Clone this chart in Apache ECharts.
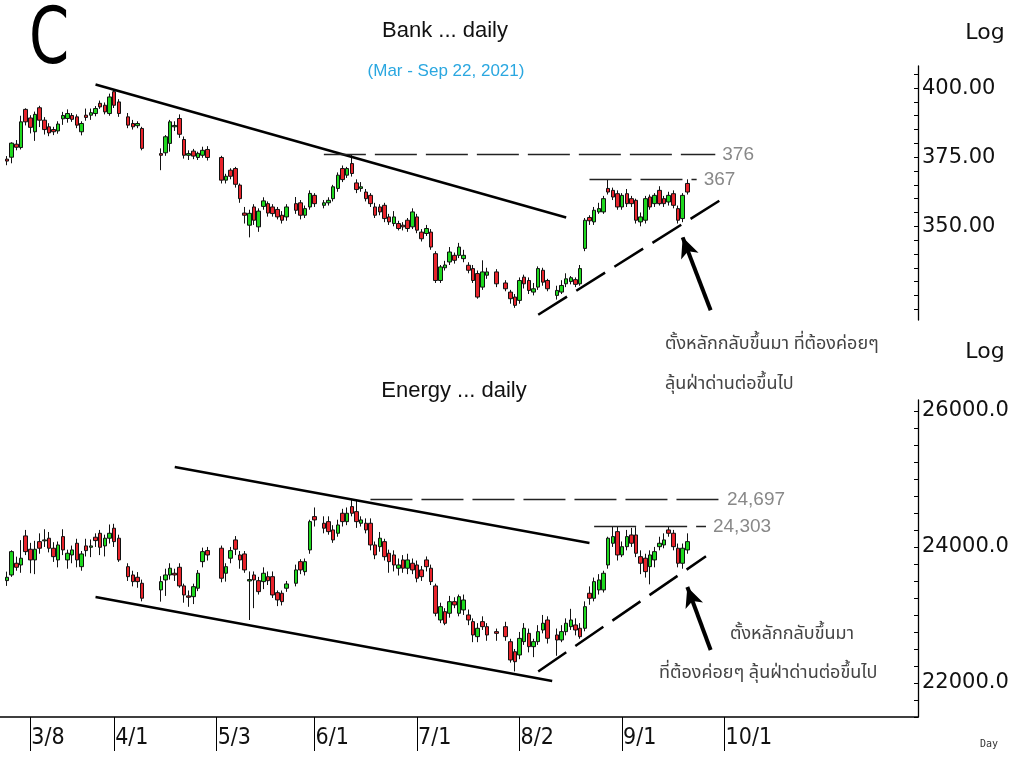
<!DOCTYPE html>
<html>
<head>
<meta charset="utf-8">
<title>Bank / Energy daily</title>
<script src="https://cdn.jsdelivr.net/npm/echarts@6/dist/echarts.min.js"></script>
<style>
html, body { margin: 0; padding: 0; background: #fff; }
#main { width: 1012px; height: 757px; }
</style>
</head>
<body>
<div id="main"></div>
<script>
// x axis: every weekday from 2/26/2021, holidays left empty
var startDay = new Date(2021, 1, 26);
var dayCount = 197;
var dateTicks = ['3/8', '4/1', '5/3', '6/1', '7/1', '8/2', '9/1', '10/1'];

var bankLabels = [350, 375, 400];
var energyLabels = [22000, 24000, 26000];

var NA = ['-', '-', '-', '-'];

// [open, close, low, high]
var bankK = [
  NA,
  [374.3, 373.6, 372.1, 375.4], [375.0, 380.1, 372.8, 380.4], [379.7, 378.6, 377.5, 381.2], [378.5, 387.8, 377.8, 390.0],
  [392.3, 387.8, 386.5, 392.7], [389.2, 385.8, 383.6, 390.2], [384.2, 390.5, 380.9, 391.5], [392.9, 388.4, 385.9, 393.6],
  [388.4, 385.0, 383.2, 389.5], [386.0, 383.8, 382.6, 387.3], [385.0, 384.2, 383.0, 386.0], [384.5, 387.0, 383.5, 388.0],
  [388.9, 390.1, 386.7, 391.4], [389.0, 390.8, 387.5, 392.3], [390.1, 388.7, 387.8, 391.0], [389.6, 386.6, 385.5, 390.5],
  [384.2, 387.2, 382.9, 388.0], [390.2, 389.4, 388.2, 392.6], [390.2, 391.1, 388.5, 392.6], [390.8, 392.6, 389.8, 393.5],
  [394.5, 393.2, 392.5, 395.5], [393.8, 391.4, 390.5, 394.8], [390.8, 396.8, 390.0, 398.0], [398.7, 393.8, 392.8, 399.5],
  [395.0, 390.8, 389.6, 396.0], NA, [389.6, 386.6, 385.5, 391.0], [387.2, 386.0, 385.0, 388.5],
  [386.4, 387.2, 385.5, 388.0], [385.4, 378.2, 377.5, 386.0], NA, NA,
  NA, [376.3, 375.7, 370.3, 378.2], [376.6, 382.4, 375.5, 383.0], [380.0, 387.8, 377.0, 388.5],
  [386.0, 386.5, 384.5, 388.0], [389.0, 383.3, 382.0, 390.5], [381.4, 375.7, 374.5, 382.5], [375.7, 376.3, 374.0, 377.5],
  [377.2, 375.4, 374.3, 378.0], [374.9, 376.4, 374.0, 377.0], [375.7, 377.5, 374.8, 378.8], [377.8, 374.9, 373.8, 379.0],
  NA, NA, [374.9, 366.7, 365.5, 375.5], [366.7, 368.1, 365.5, 369.0],
  [370.3, 368.1, 367.0, 371.0], [370.9, 365.2, 364.0, 371.5], [364.9, 360.0, 358.5, 365.5], [354.8, 354.0, 351.0, 357.0],
  [350.4, 354.7, 346.0, 356.0], [357.0, 352.2, 350.5, 358.0], [349.8, 355.5, 348.0, 356.5], [357.2, 359.2, 356.0, 360.5],
  [358.2, 354.8, 353.5, 359.0], [357.0, 354.6, 353.5, 358.0], [356.1, 353.4, 352.5, 357.0], [354.0, 352.2, 351.0, 355.5],
  [353.4, 357.0, 352.0, 358.0], NA, [358.2, 355.8, 354.5, 360.6], [358.5, 354.0, 352.5, 359.5],
  [354.0, 356.4, 353.0, 357.5], [357.0, 361.9, 356.0, 363.0], [361.2, 358.2, 357.0, 362.0], NA,
  [357.6, 358.5, 356.5, 359.5], [358.5, 359.4, 357.5, 360.5], [360.0, 364.3, 359.0, 365.0], [363.7, 368.5, 362.5, 369.5],
  [370.9, 366.9, 366.0, 372.0], [368.5, 370.9, 367.5, 371.5], [372.7, 369.1, 368.0, 376.0], [365.7, 363.3, 362.0, 367.0],
  [363.7, 364.3, 362.5, 366.0], [362.4, 360.0, 359.0, 363.5], [361.2, 358.2, 357.0, 362.0], [357.0, 354.0, 353.0, 358.5],
  [357.0, 355.2, 354.0, 358.0], [357.6, 352.8, 351.5, 358.5], [353.4, 351.6, 350.5, 354.5], [351.0, 353.4, 350.0, 355.5],
  [351.0, 349.2, 348.5, 352.0], [350.4, 349.8, 348.5, 351.5], [352.2, 349.2, 348.0, 353.0], [349.8, 355.2, 349.0, 356.5],
  [353.4, 348.6, 347.5, 354.5], [347.9, 345.5, 344.5, 349.0], [347.4, 349.2, 346.5, 350.5], [347.9, 342.5, 341.5, 349.0],
  [340.1, 330.4, 329.5, 341.0], [330.4, 335.3, 329.5, 336.0], [335.0, 336.0, 334.0, 337.5], [337.1, 340.7, 336.0, 342.5],
  [339.5, 337.7, 336.5, 340.5], [339.5, 342.5, 338.5, 344.0], [338.3, 339.5, 337.0, 341.5], [335.9, 334.1, 333.0, 337.0],
  [334.7, 330.4, 329.5, 336.0], [332.9, 324.4, 323.8, 334.0], [328.0, 333.5, 327.0, 337.7], [332.3, 333.5, 331.0, 335.0],
  NA, [333.5, 329.2, 328.0, 334.5], NA, [329.5, 327.4, 326.5, 330.5],
  [326.2, 323.8, 322.0, 327.0], [324.4, 321.4, 320.5, 325.5], [323.2, 330.4, 322.0, 331.5], [331.6, 329.2, 327.5, 332.5],
  [330.4, 326.8, 325.5, 331.5], [326.2, 327.4, 325.0, 329.5], [328.0, 334.7, 327.0, 335.5], [334.1, 329.8, 328.5, 335.0],
  [330.4, 327.4, 326.5, 331.0], NA, [325.0, 326.8, 323.5, 328.5], [326.2, 328.6, 325.5, 330.5],
  [329.2, 331.0, 328.0, 333.0], [330.0, 331.4, 329.0, 332.0], [330.7, 329.0, 328.0, 331.5], [329.2, 334.7, 328.5, 336.0],
  [342.0, 352.2, 341.0, 353.0], [353.2, 352.0, 350.5, 354.0], [351.6, 355.8, 350.5, 357.0], [355.2, 356.4, 354.5, 358.5],
  [355.2, 360.0, 354.5, 361.0], [363.7, 362.4, 361.5, 367.0], [363.0, 360.6, 359.5, 364.0], [361.8, 357.0, 356.0, 363.0],
  [357.0, 361.2, 356.0, 362.0], [361.8, 358.2, 357.0, 363.5], [360.0, 358.2, 357.0, 361.0], [359.4, 352.2, 351.0, 360.0],
  [351.6, 353.4, 350.0, 355.0], [352.2, 360.0, 351.0, 361.0], [360.6, 357.0, 356.0, 361.5], [358.2, 361.2, 357.0, 362.0],
  [363.0, 358.2, 357.5, 364.5], [360.0, 358.2, 357.0, 361.0], [358.8, 361.2, 357.5, 362.5], [361.8, 357.6, 356.5, 363.0],
  [356.4, 352.2, 351.0, 357.5], [352.8, 361.2, 351.5, 362.0], [365.5, 362.4, 361.5, 367.0]
];

var energyK = [
  NA,
  [23505, 23554, 23427, 23637], [23588, 23931, 23560, 23950], [23760, 23701, 23650, 23857], [23735, 23834, 23620, 24100],
  [24162, 23931, 23880, 24250], [23966, 23809, 23613, 24060], [23809, 23966, 23600, 24090], [24078, 23981, 23900, 24200],
  [24090, 24103, 24000, 24260], [24128, 23981, 23920, 24220], [23981, 23857, 23780, 24070], [23809, 24029, 23700, 24080],
  [24152, 23956, 23880, 24260], [23809, 23907, 23680, 23960], [23882, 23956, 23760, 24020], [24054, 23809, 23700, 24120],
  [23710, 23897, 23650, 23940], [24015, 23946, 23860, 24120], [23995, 24015, 23850, 24110], [24143, 24093, 24000, 24200],
  [24201, 23995, 23880, 24250], [24015, 24128, 23860, 24180], [24128, 24201, 24050, 24330], [24275, 24078, 24000, 24340],
  [24128, 23809, 23780, 24180], NA, [23710, 23563, 23500, 23760], [23588, 23490, 23420, 23650],
  [23554, 23490, 23400, 23630], [23466, 23246, 23200, 23520], NA, NA,
  NA, [23368, 23490, 23196, 23570], [23515, 23588, 23280, 23680], [23588, 23687, 23520, 23760],
  [23613, 23588, 23500, 23680], [23701, 23427, 23400, 23760], [23427, 23294, 23180, 23460], [23280, 23260, 23120, 23360],
  [23269, 23416, 23160, 23460], [23393, 23613, 23350, 23660], [23784, 23931, 23700, 23990], [23946, 23882, 23800, 24000],
  NA, NA, [23981, 23540, 23480, 24020], [23613, 23710, 23490, 23760],
  [23834, 23946, 23760, 24000], [24103, 23966, 23880, 24160], [23882, 23809, 23680, 23940], [23897, 23662, 23620, 23940],
  [23500, 23520, 22926, 23640], [23588, 23515, 23100, 23640], [23504, 23343, 23300, 23560], [23490, 23613, 23380, 23700],
  [23563, 23504, 23440, 23640], [23563, 23294, 23250, 23640], [23328, 23221, 23130, 23360], [23319, 23196, 23140, 23360],
  [23393, 23456, 23340, 23500], NA, [23466, 23662, 23420, 23740], [23784, 23662, 23600, 23820],
  [23637, 23784, 23580, 23830], [23956, 24372, 23900, 24400], [24446, 24397, 24300, 24580], NA,
  [24348, 24275, 24200, 24450], [24372, 24225, 24180, 24450], [24250, 24103, 24060, 24320], [24201, 24323, 24150, 24400],
  [24495, 24372, 24300, 24560], [24372, 24495, 24320, 24580], [24593, 24495, 24450, 24697], [24519, 24372, 24280, 24680],
  [24348, 24397, 24300, 24450], [24348, 24250, 24200, 24420], [24348, 24029, 23950, 24420], [24029, 23882, 23820, 24080],
  [24004, 24128, 23930, 24220], [24078, 23857, 23800, 24120], [23907, 23784, 23620, 23960], [23882, 23735, 23640, 23950],
  [23687, 23735, 23580, 23830], [23809, 23687, 23620, 23880], [23687, 23809, 23600, 23900], [23760, 23662, 23600, 23830],
  [23735, 23540, 23480, 23800], [23662, 23563, 23500, 23720], [23809, 23710, 23640, 23860], [23687, 23490, 23440, 23740],
  [23427, 23025, 22980, 23460], [22926, 23122, 22880, 23180], [23049, 22878, 22850, 23100], [23025, 23196, 22960, 23280],
  [23196, 23147, 23100, 23260], [23025, 23269, 22980, 23300], [23074, 23220, 23000, 23300], [23000, 22926, 22850, 23080],
  [22902, 22706, 22600, 22950], [22681, 22804, 22600, 22880], [22902, 22828, 22780, 22980], [22828, 22706, 22620, 22880],
  NA, [22755, 22730, 22620, 22800], NA, [22828, 22681, 22620, 22900],
  [22607, 22338, 22300, 22650], [22460, 22313, 22170, 22500], [22412, 22656, 22350, 22750], [22608, 22804, 22560, 22880],
  [22730, 22534, 22450, 22800], [22534, 22608, 22380, 22650], [22608, 22755, 22560, 22850], [22779, 22878, 22730, 23000],
  [22926, 22657, 22580, 22980], NA, [22706, 22632, 22400, 22800], [22632, 22755, 22600, 22850],
  [22755, 22878, 22700, 22950], [22828, 22926, 22780, 23090], [22853, 22779, 22700, 22950], [22804, 22681, 22650, 22880],
  [22804, 23122, 22760, 23200], [23319, 23245, 23150, 23420], [23245, 23490, 23200, 23550], [23368, 23515, 23300, 23600],
  [23368, 23613, 23330, 23650], [23735, 24128, 23680, 24150], [24054, 24152, 24000, 24300], [24225, 23882, 23800, 24300],
  [23882, 24004, 23850, 24080], [24004, 24152, 23950, 24250], [24176, 24054, 24000, 24280], [24176, 23907, 23850, 24290],
  [23857, 23760, 23600, 23950], [23834, 23637, 23550, 23900], [23710, 23882, 23450, 23950], [23809, 23931, 23700, 24000],
  [24004, 24054, 23950, 24150], [24029, 24103, 23980, 24200], [24250, 24201, 24150, 24303], [24201, 24004, 23950, 24250],
  [23981, 23760, 23700, 24050], [23760, 23981, 23680, 24050], [23956, 24078, 23900, 24200]
];

// trend lines as [dayIndex, value] pairs
var bankUpper = [[20, 401.3], [121, 353.2]];
var bankLower = [[19, 362.3], [120, 313.8]];
var bankSupport = [[115, 318.0], [154, 359.4]];
var bankResist1 = [[69, 376], [153, 376]];
var bankResist2 = [[126, 367], [149, 367]];
var bankArrow = [[152, 319.6], [146, 346.0]];

var energyUpper = [[37, 25175], [126, 24058]];
var energyLower = [[20, 23264], [118, 22029]];
var energySupport = [[115, 22168], [151, 23862]];
var energyResist1 = [[79, 24697], [154, 24697]];
var energyResist2 = [[127, 24303], [151, 24303]];
var energyArrow = [[152, 22485], [147, 23411]];

var days = [];
for (var d = new Date(startDay); days.length < dayCount; d.setDate(d.getDate() + 1)) {
    var wd = d.getDay();
    if (wd !== 0 && wd !== 6) {
        days.push((d.getMonth() + 1) + '/' + d.getDate());
    }
}

var bankTicks = [];
for (var v = 320; v <= 405; v += 5) bankTicks.push(v);
var energyTicks = [];
for (var e = 21500; e <= 26000; e += 250) energyTicks.push(e);

var upColor = '#1ed81e';
var downColor = '#e8232b';
var sans = '"Liberation Sans", Arial, sans-serif';
var thaiFont = '"Noto Sans Thai", "Noto Sans Thai UI", Tahoma, "Noto Sans", sans-serif';

function solid(p) {
    return [{ coord: p[0], lineStyle: { type: 'solid', width: 2.5, color: '#000' } }, { coord: p[1] }];
}
function dashedRise(p) {
    return [{ coord: p[0], lineStyle: { type: [34, 11], width: 2.5, color: '#000' } }, { coord: p[1] }];
}
function level(p, text) {
    return [{
        coord: p[0],
        lineStyle: { type: [42, 9], width: 1.3, color: '#222' },
        label: {
            show: true, position: 'end', distance: 7, formatter: text,
            color: '#888', fontSize: 19, fontFamily: sans
        }
    }, { coord: p[1] }];
}
function arrow(p) {
    return [{ coord: p[0], symbol: 'none', lineStyle: { type: 'solid', width: 4, color: '#000' } },
            { coord: p[1], symbol: 'arrow', symbolSize: [14, 20] }];
}

function markLines(upper, lower, support, r1, r1Text, r2, r2Text, arr) {
    return {
        silent: true,
        animation: false,
        symbol: ['none', 'none'],
        label: { show: false },
        emphasis: { disabled: true },
        data: [
            solid(upper), solid(lower), dashedRise(support),
            level(r1, r1Text), level(r2, r2Text), arrow(arr)
        ]
    };
}

var candleStyle = {
    color: upColor, color0: downColor,
    borderColor: '#111', borderColor0: '#111', borderWidth: 1
};

function yAxisFor(grid, min, max, labels, ticks, digits) {
    return {
        type: 'value', gridIndex: grid, position: 'right', min: min, max: max,
        axisLine: { show: true, onZero: false, lineStyle: { color: '#000', width: 1.3 } },
        axisTick: { show: true, inside: true, length: 4, customValues: ticks, lineStyle: { color: '#000' } },
        axisLabel: {
            customValues: labels, margin: 4, color: '#111', fontSize: 21, fontFamily: '"DejaVu Sans", sans-serif',
            formatter: function (val) { return val.toFixed(digits); }
        },
        splitLine: { show: false }
    };
}

function showTick(idx, val) { return dateTicks.indexOf(val) >= 0; }

function txt(x, y, text, font, color, align, extra) {
    var el = {
        type: 'text', x: x, y: y,
        style: {
            text: text, font: font, fill: color,
            align: align, verticalAlign: 'middle', textAlign: align, textVerticalAlign: 'middle'
        }
    };
    if (extra) { for (var k in extra) el[k] = extra[k]; }
    return el;
}

var myChart = echarts.init(document.getElementById('main'));
var option = {
    animation: false,
    backgroundColor: '#fff',
    grid: [
        { left: 0, right: 94, top: 66, height: 254 },
        { left: 0, right: 94, top: 400, height: 317 }
    ],
    xAxis: [
        { type: 'category', gridIndex: 0, data: days, boundaryGap: true, show: false },
        {
            type: 'category', gridIndex: 1, data: days, boundaryGap: true,
            axisLine: { show: true, lineStyle: { color: '#000', width: 1.5 } },
            axisTick: { show: true, alignWithLabel: true, length: 34, interval: showTick, lineStyle: { color: '#000' } },
            axisLabel: {
                interval: showTick, align: 'left', padding: [0, 0, 0, 1], margin: 10,
                fontSize: 23, fontFamily: '"DejaVu Sans Condensed", "DejaVu Sans", sans-serif', color: '#111'
            },
            splitLine: { show: false }
        }
    ],
    yAxis: [
        yAxisFor(0, 316.1, 408, bankLabels, bankTicks, 2),
        yAxisFor(1, 21500, 26160, energyLabels, energyTicks, 1)
    ],
    series: [
        {
            name: 'Bank', type: 'candlestick', xAxisIndex: 0, yAxisIndex: 0,
            data: bankK, barWidth: 4, clip: false, itemStyle: candleStyle,
            markLine: markLines(bankUpper, bankLower, bankSupport, bankResist1, '376', bankResist2, '367', bankArrow)
        },
        {
            name: 'Energy', type: 'candlestick', xAxisIndex: 1, yAxisIndex: 1,
            data: energyK, barWidth: 4, clip: false, itemStyle: candleStyle,
            markLine: markLines(energyUpper, energyLower, energySupport, energyResist1, '24,697', energyResist2, '24,303', energyArrow)
        }
    ],
    graphic: [
        txt(49, 43, 'C', '78px "DejaVu Sans Condensed", "DejaVu Sans", sans-serif', '#000', 'center', { scaleX: 0.82 }),
        txt(445, 31, 'Bank ... daily', '22px ' + sans, '#111', 'center'),
        txt(446, 71, '(Mar - Sep 22, 2021)', '17px ' + sans, '#2aa7e0', 'center'),
        txt(985, 33, 'Log', '22px "DejaVu Sans", sans-serif', '#111', 'center'),
        txt(985, 352, 'Log', '22px "DejaVu Sans", sans-serif', '#111', 'center'),
        txt(454, 391, 'Energy ... daily', '22px ' + sans, '#111', 'center'),
        txt(989, 744, 'Day', '10px "DejaVu Sans Mono", monospace', '#333', 'center'),
        txt(665, 345, 'ตั้งหลักกลับขึ้นมา ที่ต้องค่อยๆ', '18px ' + thaiFont, '#444', 'left'),
        txt(665, 385, 'ลุ้นฝ่าด่านต่อขึ้นไป', '18px ' + thaiFont, '#444', 'left'),
        txt(730, 635, 'ตั้งหลักกลับขึ้นมา', '18px ' + thaiFont, '#444', 'left'),
        txt(659, 674, 'ที่ต้องค่อยๆ ลุ้นฝ่าด่านต่อขึ้นไป', '18px ' + thaiFont, '#444', 'left')
    ]
};
myChart.setOption(option);
</script>
</body>
</html>
